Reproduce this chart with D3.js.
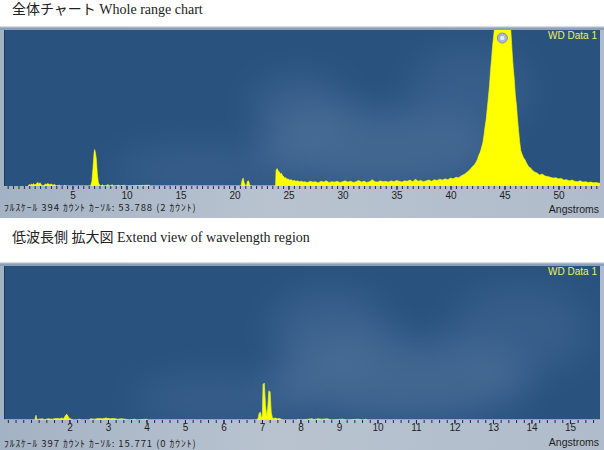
<!DOCTYPE html>
<html><head><meta charset="utf-8">
<script src="https://cdn.jsdelivr.net/npm/d3@7"></script>
<style>html,body{margin:0;padding:0;background:#fff;}svg{display:block;}</style>
</head><body>
<svg id="c" width="604" height="450"></svg>
<script>
// ---------- DATA ----------
const titleTop = "全体チャート Whole range chart";
const titleBottom = "低波長側 拡大図 Extend view of wavelength region";
const statusTop = "ﾌﾙｽｹｰﾙ 394 ｶｳﾝﾄ ｶｰｿﾙ: 53.788  (2 ｶｳﾝﾄ)";
const statusBottom = "ﾌﾙｽｹｰﾙ 397 ｶｳﾝﾄ ｶｰｿﾙ: 15.771  (0 ｶｳﾝﾄ)";
const seriesName = "WD Data 1";
const unitLabel = "Angstroms";
const fullScaleTop = 394;
const fullScaleBottom = 397;
const domainTop = [-1.34, 53.84];
const domainBottom = [0.3, 15.78];
const majorTicksTop = [5,10,15,20,25,30,35,40,45,50];
const majorTicksBottom = [2,3,4,5,6,7,8,9,10,11,12,13,14,15];
const markerTop = [44.8]; // peak marker wavelength

// whole range spectrum [wavelength (Å), counts]
const spectrumTop = [
 [0.9,0],[1.0,4],[1.1,2],[1.2,5],[1.3,3],[1.4,6],[1.5,3],[1.6,4],[1.7,7],[1.8,9],[1.9,5],[2.0,8],[2.1,3],[2.2,2],[2.3,0],
 [2.4,3],[2.5,5],[2.6,4],[2.7,6],[2.8,5],[2.9,3],[3.0,5],[3.1,4],[3.2,2],[3.3,4],[3.4,3],[3.5,0],[3.8,2],[3.9,0],
 [4.2,0],[4.3,2],[4.4,0],[6.6,0],[6.7,2],[6.8,12],[6.9,45],[7.0,85],[7.05,92],[7.1,88],[7.2,70],[7.3,30],[7.4,8],[7.5,3],[7.6,0],
 [7.8,3],[7.9,0],[8.2,2],[8.3,4],[8.4,0],[8.7,3],[8.8,0],[9.3,2],[9.4,0],[9.8,2],[9.9,0],[12.1,2],[12.2,0],
 [20.6,0],[20.7,14],[20.8,20],[20.9,8],[21.0,2],[21.1,0],[21.2,12],[21.3,13],[21.4,4],[21.5,0],
 [23.8,0],[23.85,40],[23.95,44],[24.05,38],[24.15,36],[24.25,30],[24.35,32],[24.45,26],[24.55,24],[24.65,20],[24.75,21],
 [24.85,17],[24.95,18],[25.1,15],[25.25,16],[25.4,13],[25.55,14],[25.7,12],[25.85,13],[26.0,11],[26.2,12],[26.4,10],
 [26.5,11],[26.75,9],[27.0,12],[27.25,10],[27.5,11],[27.75,8],[28.0,12],[28.25,10],[28.5,13],[28.75,9],[29.0,11],[29.25,10],
 [29.5,12],[29.75,9],[30.0,11],[30.25,13],[30.5,10],[30.75,12],[31.0,9],[31.25,11],[31.5,14],[31.75,10],[32.0,12],[32.25,9],
 [32.5,11],[32.75,16],[33.0,11],[33.25,10],[33.5,13],[33.75,11],[34.0,12],[34.25,10],[34.5,13],[34.75,11],[35.0,14],[35.25,12],
 [35.5,10],[35.75,13],[36.0,12],[36.25,15],[36.5,11],[36.75,17],[37.0,12],[37.25,14],[37.5,11],[37.75,13],[38.0,15],[38.25,12],
 [38.5,16],[38.75,14],[39.0,17],[39.25,15],[39.5,18],[39.75,16],[40.0,20],[40.25,18],[40.5,22],[40.75,21],[41.0,26],[41.25,29],
 [41.5,34],[41.75,40],[42.0,48],[42.25,55],[42.4,62],[42.5,68],[42.65,80],[42.75,85],[42.9,100],[43.0,110],[43.1,128],[43.2,150],
 [43.3,168],[43.4,195],[43.5,222],[43.6,250],[43.7,290],[43.8,320],[43.9,355],[44.0,380],[44.2,430],[44.6,480],[45.0,500],
 [45.5,420],[45.6,385],[45.7,340],[45.8,300],[45.9,270],[46.0,230],[46.1,205],[46.2,170],[46.3,140],[46.4,112],[46.5,90],
 [46.6,82],[46.75,72],[46.9,66],[47.0,60],[47.1,55],[47.25,48],[47.4,46],[47.5,42],[47.75,36],[48.0,33],[48.25,28],[48.5,30],
 [48.75,25],[49.0,24],[49.25,22],[49.5,20],[49.75,21],[50.0,18],[50.25,19],[50.5,15],[50.75,16],[51.0,13],[51.25,15],
 [51.5,12],[51.75,11],[52.0,13],[52.25,10],[52.5,11],[52.75,9],[53.0,10],[53.25,8],[53.5,9],[53.75,7],[54.0,8]
];

// low-wavelength expanded spectrum [wavelength (Å), counts]
const spectrumBottom = [
 [0.3,0],[1.1,0],[1.13,12],[1.16,0],[1.2,2],[1.3,3],[1.35,1],[1.45,3],[1.55,2],[1.65,4],[1.75,3],[1.8,5],[1.85,3],
 [1.9,12],[1.93,15],[1.96,10],[2.0,4],[2.05,2],[2.1,0],[2.2,0],[2.25,2],[2.3,0],[2.5,0],[2.55,3],[2.65,2],[2.75,4],
 [2.85,3],[2.95,5],[3.05,3],[3.15,4],[3.25,2],[3.35,3],[3.45,2],[3.55,0],[3.7,2],[3.75,0],[4.0,2],[4.05,0],
 [6.85,0],[6.9,4],[6.93,18],[6.96,20],[6.99,6],[7.01,10],[7.03,92],[7.06,95],[7.09,40],[7.12,10],[7.15,30],[7.18,75],
 [7.21,73],[7.24,20],[7.27,6],[7.3,4],[7.35,5],[7.4,3],[7.45,4],[7.5,2],[7.55,0],[7.9,0],[7.95,2],[8.0,0],[8.2,2],
 [8.3,3],[8.35,1],[8.45,3],[8.55,2],[8.7,3],[8.8,0],[9.1,2],[9.2,0],[9.5,2],[9.6,0],[9.7,2],[9.75,0],[15.8,0]
];

// ---------- DRAW ----------
const svg = d3.select("#c");
const defs = svg.append("defs");
defs.append("filter").attr("id","blur").attr("x","-50%").attr("y","-50%").attr("width","200%").attr("height","200%")
  .append("feGaussianBlur").attr("stdDeviation", 18);
const fg = defs.append("linearGradient").attr("id","frameGrad").attr("x1",0).attr("x2",1).attr("y1",0).attr("y2",0);
fg.append("stop").attr("offset","0%").attr("stop-color","#a3b2c4");
fg.append("stop").attr("offset","45%").attr("stop-color","#b9c3d0");
fg.append("stop").attr("offset","100%").attr("stop-color","#b0bccb");

function panel(cfg){
  const g = svg.append("g");
  const {fx0, fy0, fx1, fy1, px0, py0, px1, py1} = cfg;
  g.append("rect").attr("x",fx0).attr("y",fy0).attr("width",fx1-fx0).attr("height",fy1-fy0).attr("fill","url(#frameGrad)");
  g.append("rect").attr("x",fx0).attr("y",fy0).attr("width",fx1-fx0).attr("height",1.5).attr("fill","#d6dde6");
  g.append("rect").attr("x",fx0).attr("y",fy0+1.5).attr("width",fx1-fx0).attr("height",py0-fy0-1.5).attr("fill","#8d9fb6");
  const clipId = "clip"+cfg.id;
  defs.append("clipPath").attr("id",clipId).append("rect").attr("x",px0).attr("y",py0).attr("width",px1-px0).attr("height",py1-py0);
  const pg = g.append("g").attr("clip-path",`url(#${clipId})`);
  pg.append("rect").attr("x",px0).attr("y",py0).attr("width",px1-px0).attr("height",py1-py0).attr("fill","#29527f");
  cfg.clouds.forEach(c=>{
    pg.append("ellipse").attr("cx",c[0]).attr("cy",c[1]).attr("rx",c[2]).attr("ry",c[3])
      .attr("fill","#6f90b4").attr("opacity",c[4]).attr("filter","url(#blur)");
  });
  pg.append("rect").attr("x",px0).attr("y",py0).attr("width",1).attr("height",py1-py0).attr("fill","#1d3c60");

  const x = d3.scaleLinear().domain(cfg.domain).range([px0,px1]);
  const y = d3.scaleLinear().domain([0,cfg.full]).range([py1,py0]);
  const area = d3.area().x(d=>x(d[0])).y0(py1).y1(d=>y(d[1]));
  pg.append("path").datum(cfg.data).attr("d",area)
    .attr("fill","#ffff00").attr("stroke",cfg.stroke).attr("stroke-width",cfg.sw);

  const minor = d3.range(Math.ceil(cfg.domain[0]/cfg.minorStep)*cfg.minorStep, cfg.domain[1], cfg.minorStep);
  const axMinor = d3.axisBottom(x).tickValues(minor).tickSize(3).tickFormat("");
  const axMajor = d3.axisBottom(x).tickValues(cfg.major).tickSize(4).tickPadding(cfg.pad).tickFormat(d3.format("d"));
  [axMinor, axMajor].forEach(ax=>{
    const a = g.append("g").attr("transform",`translate(0,${py1})`).call(ax);
    a.select(".domain").remove();
    a.selectAll("line").attr("stroke","#1c2b40").attr("stroke-width",1);
    a.selectAll("text").attr("fill","#1e1e1e").style("font-family","'Liberation Sans', Arial, sans-serif").style("font-size","10px");
  });
  g.append("text").attr("x",fx0+4).attr("y",cfg.statusY).text(cfg.status)
    .style("font-family","'Noto Sans CJK JP', sans-serif").style("font-size","9.5px")
    .style("letter-spacing","0.95px").attr("fill","#1e1e1e");
  g.append("text").attr("x",px1-1).attr("y",cfg.unitY).attr("text-anchor","end").text(unitLabel)
    .style("font-family","'Liberation Sans', Arial, sans-serif").style("font-size","10.5px").attr("fill","#1e1e1e");
  g.append("text").attr("x",px1-3).attr("y",py0+9).attr("text-anchor","end").text(seriesName)
    .style("font-family","'Liberation Sans', Arial, sans-serif").style("font-size","10px").attr("fill","#eef060");
  return {g, x, y};
}

svg.append("text").attr("x",12).attr("y",14).text(titleTop)
  .style("font-family","'Liberation Serif', 'Noto Sans CJK JP', serif").style("font-size","14px").attr("fill","#222");
svg.append("text").attr("x",12).attr("y",242).text(titleBottom)
  .style("font-family","'Liberation Serif', 'Noto Sans CJK JP', serif").style("font-size","14px").attr("fill","#222");

const topPanel = panel({id:"t", fx0:0, fy0:26, fx1:604, fy1:218, px0:4, py0:30, px1:600, py1:186,
  domain:domainTop, full:fullScaleTop, data:spectrumTop, major:majorTicksTop, minorStep:0.5, pad:1.5,
  status:statusTop, statusY:211, unitY:213, stroke:"#ffff00", sw:0.6,
  clouds:[[380,150,120,40,0.35],[300,110,50,35,0.25],[470,90,60,45,0.2],[200,170,90,25,0.2]]});
const bottomPanel = panel({id:"b", fx0:0, fy0:262, fx1:604, fy1:450, px0:4, py0:266, px1:600, py1:420,
  domain:domainBottom, full:fullScaleBottom, data:spectrumBottom, major:majorTicksBottom, minorStep:0.2, pad:0,
  status:statusBottom, statusY:446.5, unitY:446, stroke:"#d8ef3a", sw:0.8,
  clouds:[[400,380,130,40,0.35],[330,330,60,40,0.25],[520,330,70,45,0.2],[220,400,90,25,0.2]]});

markerTop.forEach(m=>{
  const mx = topPanel.x(m), my = 38;
  topPanel.g.append("circle").attr("cx",mx).attr("cy",my).attr("r",5).attr("fill","#a9b6d2").attr("stroke","#8292b8").attr("stroke-width",1);
  topPanel.g.append("circle").attr("cx",mx).attr("cy",my).attr("r",2.2).attr("fill","#e6ecf6");
});
</script>
</body></html>
